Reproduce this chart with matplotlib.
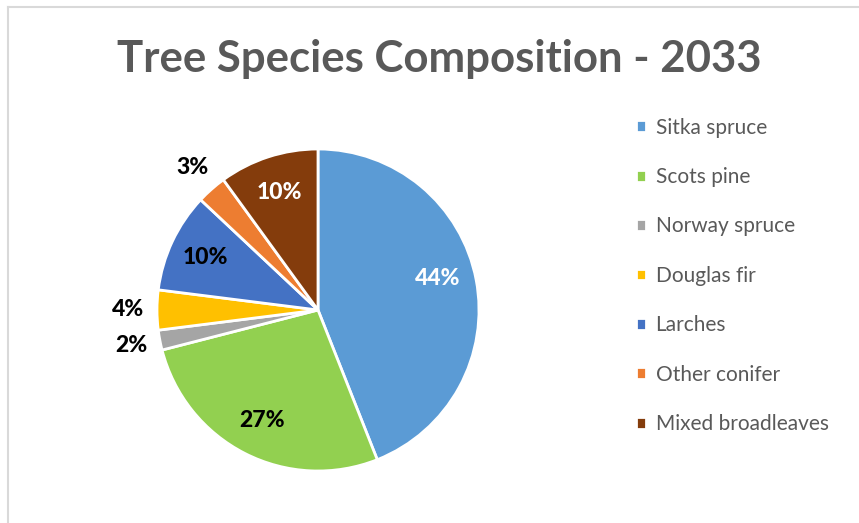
#!/usr/bin/env python3

import matplotlib
matplotlib.use('Agg')
import matplotlib.pyplot as plt
from matplotlib.lines import Line2D
import numpy as np

species = ['Sitka spruce', 'Scots pine', 'Norway spruce', 'Douglas fir',
           'Larches', 'Other conifer', 'Mixed broadleaves']
shares = [44, 27, 2, 4, 10, 3, 10]
colors = ['#5B9BD5', '#92D050', '#A5A5A5', '#FFC000', '#4472C4', '#ED7D31', '#843C0C']
label_colors = ['white', 'black', 'black', 'black', 'black', 'black', 'white']

plt.rcParams['font.family'] = ['Lato', 'DejaVu Sans']
grey = '#595959'

fig = plt.figure(figsize=(8.59, 5.23), dpi=100)

# chart area border (only top and left visible in the crop)
fig.add_artist(Line2D([8 / 859, 8 / 859], [0, 1 - 7 / 523], transform=fig.transFigure,
                      color='#D9D9D9', lw=1.5))
fig.add_artist(Line2D([8 / 859, 1], [1 - 7 / 523, 1 - 7 / 523], transform=fig.transFigure,
                      color='#D9D9D9', lw=1.5))

fig.text(439 / 859, 1 - 59 / 523, 'Tree Species Composition - 2033', ha='center', va='center',
         fontsize=31.5, fontweight='bold', color=grey)

# pie centre at (318, 310) px, radius 161 px
lim = 1.3
size = 2 * 161 * lim
ax = fig.add_axes([(318 - size / 2) / 859, (523 - 310 - size / 2) / 523, size / 859, size / 523])
wedges, _ = ax.pie(shares, colors=colors, startangle=90, counterclock=False,
                   wedgeprops=dict(edgecolor='white', linewidth=2))
ax.set_xlim(-lim, lim)
ax.set_ylim(-lim, lim)
ax.set_aspect('equal')
ax.axis('off')

for w, v, c in zip(wedges, shares, label_colors):
    mid = np.deg2rad((w.theta1 + w.theta2) / 2)
    r = 1.18 if v < 5 else 0.77
    if v == 44:
        mid += np.deg2rad(4)
    ax.text(r * np.cos(mid), r * np.sin(mid), f'{v}%', ha='center', va='center',
            fontsize=16.5, fontweight='black', color=c)

leg = fig.legend(wedges, species, loc='upper left', bbox_to_anchor=(617 / 859, 1 - 99 / 523),
                 frameon=False, fontsize=15, handlelength=0.5, handleheight=0.5,
                 handletextpad=0.45, labelspacing=1.41)
for t in leg.get_texts():
    t.set_color(grey)

fig.savefig('out.png', dpi=100)
